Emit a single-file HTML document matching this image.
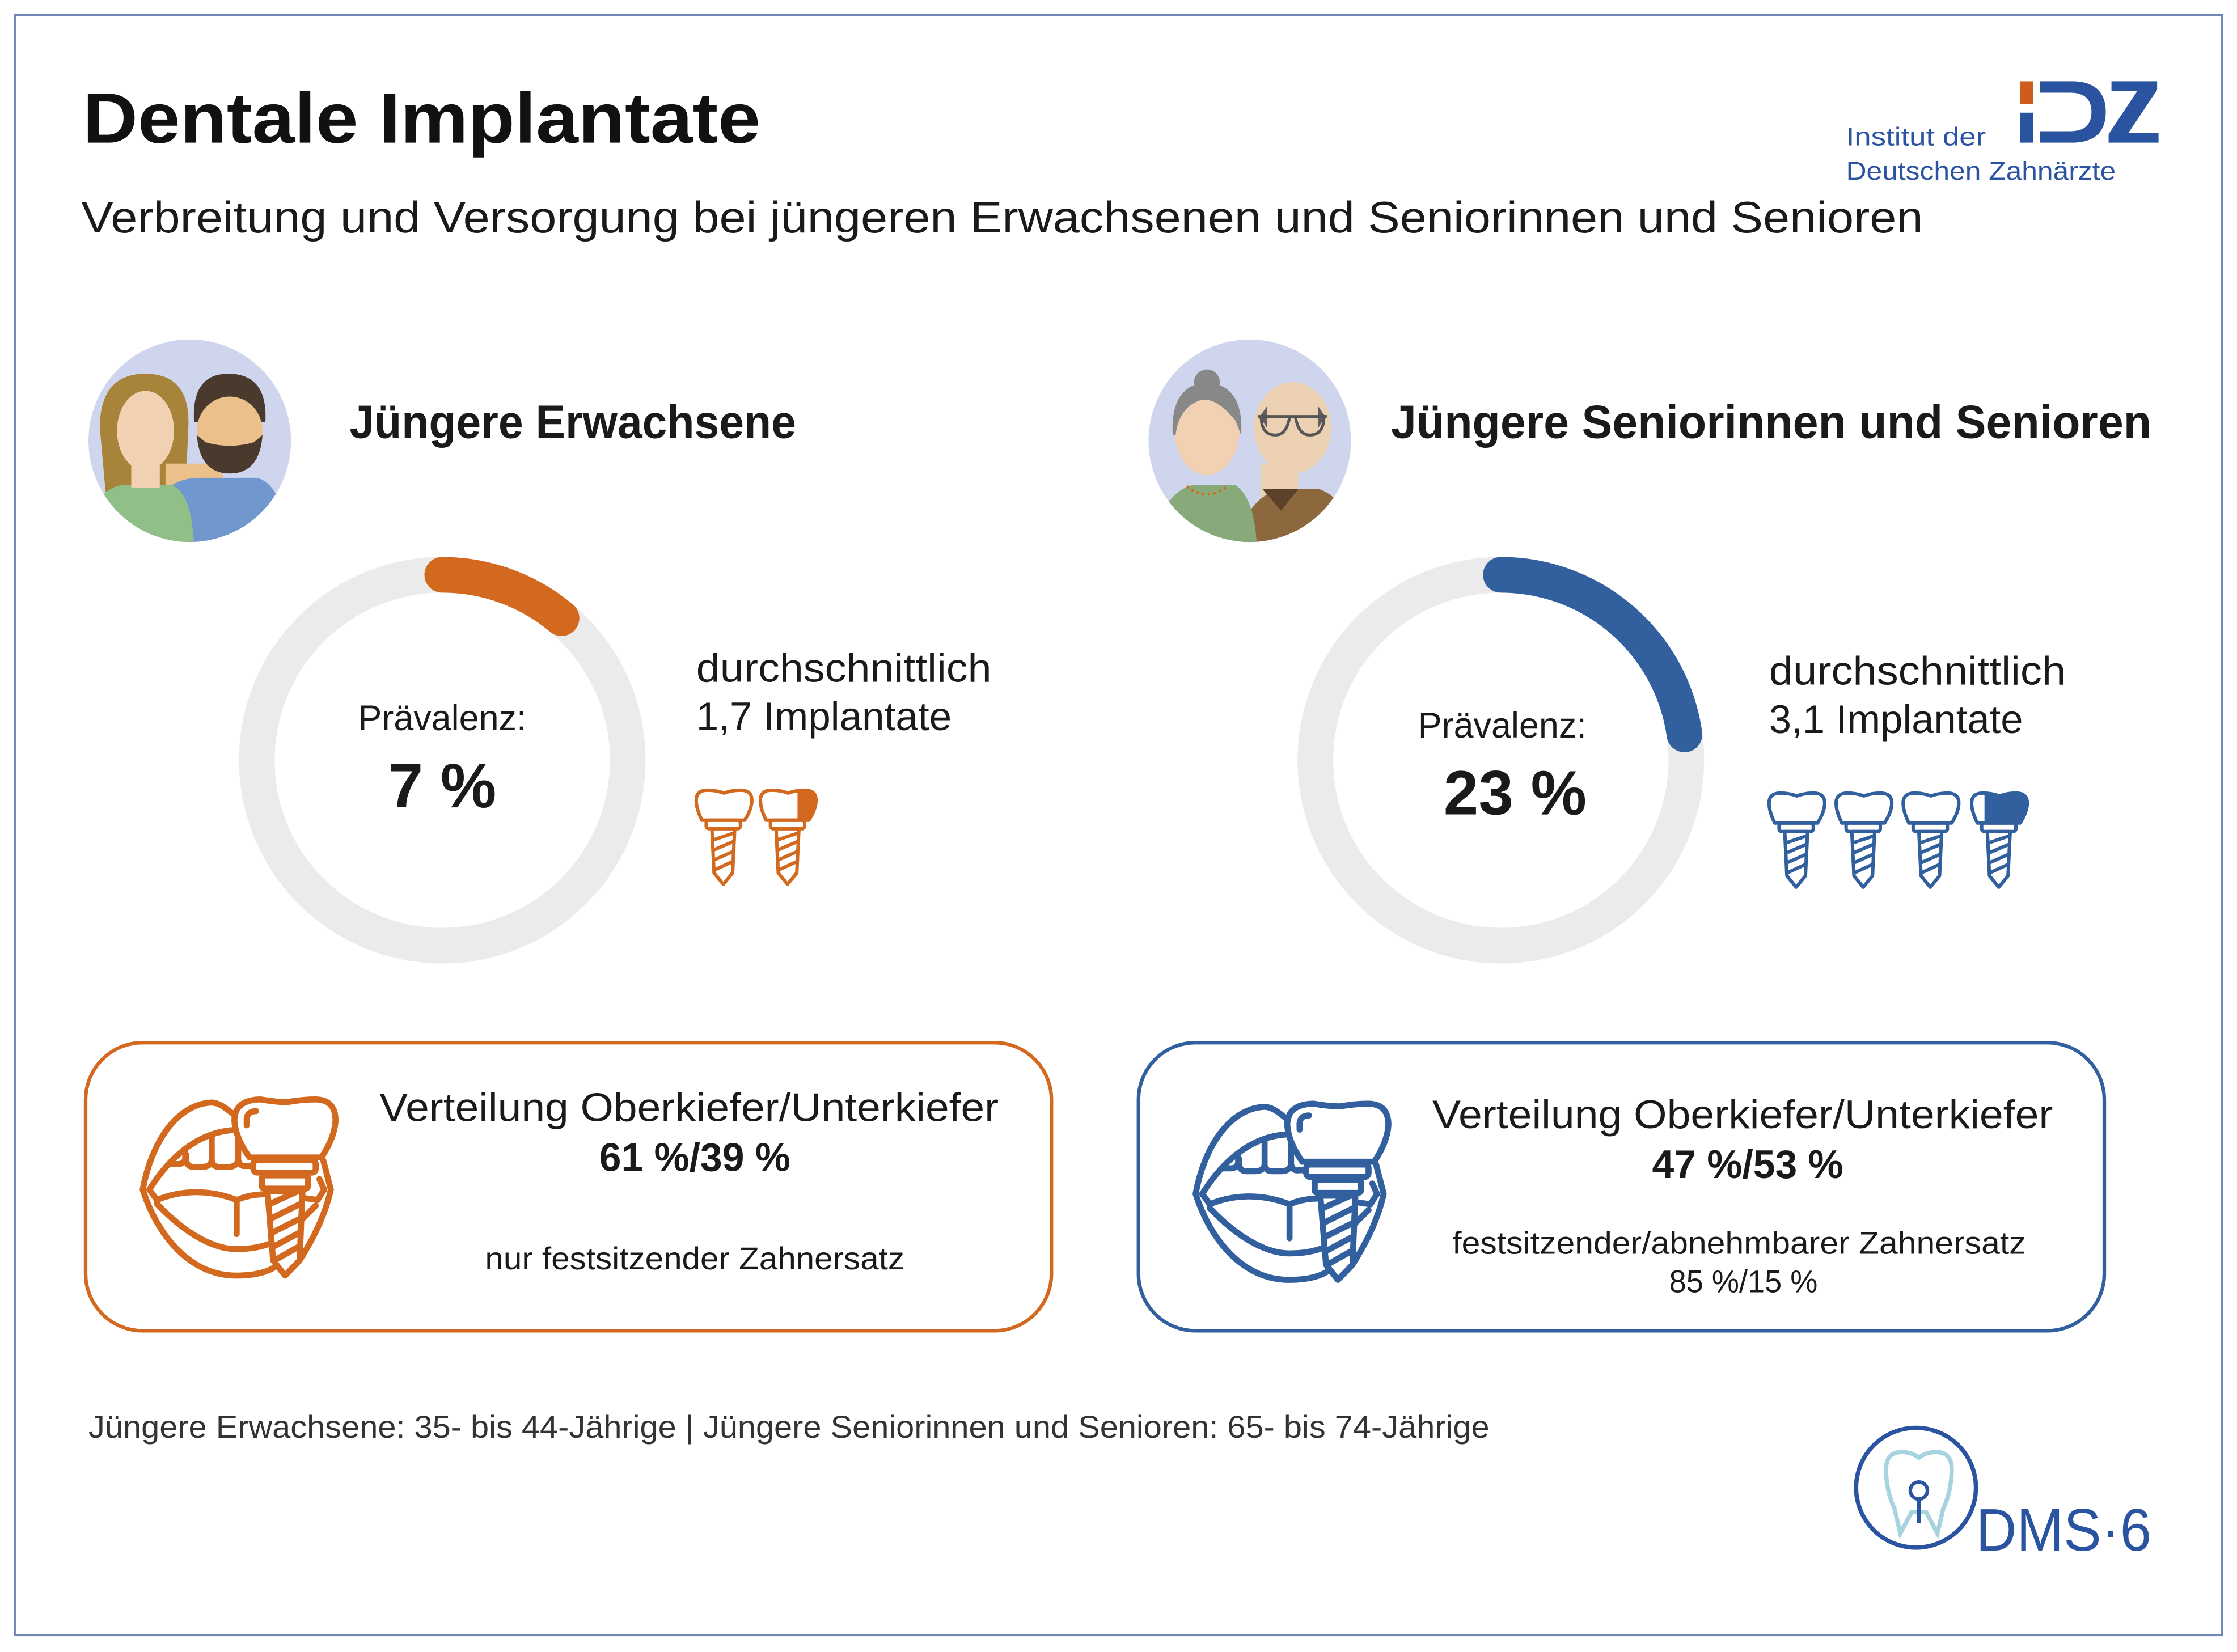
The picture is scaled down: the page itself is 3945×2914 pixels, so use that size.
<!DOCTYPE html>
<html><head><meta charset="utf-8"><style>
html,body{margin:0;padding:0;background:#fff}
svg{display:block}
text{font-family:"Liberation Sans",sans-serif}
</style></head><body>
<svg width="3945" height="2914" viewBox="0 0 1568 1158.2" xmlns="http://www.w3.org/2000/svg">
<defs>
<g id="imp" fill="none" stroke-width="2.4" stroke-linejoin="round">
  <path d="M4,22 L34,22 Q39,14 39,8 Q39,1 31,1 Q25,1 19.5,3 Q14,1 8,1 Q0,1 0,8 Q0,14 4,22Z"/>
  <rect x="7" y="22" width="24" height="6" rx="2"/>
  <path d="M11,28 L27,28 L25.5,59 L19,67 L12.5,59 Z"/>
  <path d="M11.5,36 L26.5,31 M12,43 L26,37 M12.3,50 L25.8,44 M12.6,57 L25.6,51"/>
</g>
<g id="mouth" fill="none" stroke-width="32" stroke-linejoin="round" stroke-linecap="round">
  <path d="M640,350 C600,320 560,280 510,285 C330,300 200,500 155,745 C230,980 400,1200 650,1200 C750,1200 820,1180 860,1150"/>
  <path d="M1110,590 L1150,745 C1120,880 1060,1000 985,1120"/>
  <path d="M190,745 C300,570 450,440 640,430"/>
  <path d="M190,745 L230,800 C350,750 500,740 652,800 C700,780 750,770 800,770"/>
  <path d="M230,820 C400,1000 550,1060 650,1060 C720,1060 780,1050 830,1030"/>
  <path d="M1010,790 L1080,800 L1115,745 L1090,690"/>
  <path d="M1000,900 L1070,830"/>
  <path d="M300,610 L340,610 Q375,610 380,580 L380,550"/>
  <path d="M385,560 L385,590 Q390,625 425,625 L470,625 Q515,625 520,590 L520,470"/>
  <path d="M520,590 Q525,625 560,625 L610,625 Q650,625 660,590 L660,450"/>
  <path d="M660,590 Q670,625 700,620 L720,620"/>
  <path d="M652,810 L652,980"/>
  <path d="M720,575 L1100,575 Q1170,470 1175,380 Q1175,270 1070,268 Q1000,268 920,282 Q860,282 780,268 Q640,270 640,380 Q645,470 720,575 Z" fill="#fff"/>
  <path d="M705,405 L705,370 Q710,330 755,330"/>
  <rect x="740" y="590" width="330" height="65" rx="20" fill="#fff"/>
  <rect x="785" y="670" width="245" height="70" rx="15" fill="#fff"/>
  <path d="M815,755 L1000,755 L985,1120 L908,1200 L845,1120 Z" fill="#fff"/>
  <path d="M830,820 L995,745 M840,895 L990,820 M845,970 L985,900 M850,1045 L980,975 M860,1115 L975,1050"/>
</g>
<clipPath id="c1"><rect x="26" y="-5" width="20" height="28"/></clipPath>
<clipPath id="c2"><rect x="9" y="-5" width="40" height="28"/></clipPath>
<clipPath id="av1"><circle cx="133" cy="309" r="71"/></clipPath>
<clipPath id="av2"><circle cx="876" cy="309" r="71"/></clipPath>
</defs>

<rect x="10.5" y="10.5" width="1547" height="1136" fill="none" stroke="#6b86b5" stroke-width="1.2"/>

<text x="58" y="100" font-size="50" font-weight="bold" fill="#111" textLength="475" lengthAdjust="spacingAndGlyphs">Dentale Implantate</text>
<text x="57" y="163" font-size="31" fill="#1a1a1a" textLength="1291" lengthAdjust="spacingAndGlyphs">Verbreitung und Versorgung bei jüngeren Erwachsenen und Seniorinnen und Senioren</text>

<!-- IDZ logo -->
<rect x="1416" y="57" width="9" height="16" fill="#cf5c1c"/>
<rect x="1416" y="79" width="9" height="21" fill="#2a53a0"/>
<path d="M1430,57 L1452,57 Q1476,57 1476,78.5 Q1476,100 1452,100 L1430,100 L1430,92 L1451,92 Q1466,92 1466,78.5 Q1466,65 1451,65 L1430,65 Z" fill="#2a53a0"/>
<path d="M1480,57 L1512,57 L1512,63 L1492,93 L1513,93 L1513,100 L1478,100 L1478,94 L1498,64 L1480,64 Z" fill="#2a53a0"/>
<text x="1294" y="102" font-size="18" fill="#2a53a0" textLength="98" lengthAdjust="spacingAndGlyphs">Institut der</text>
<text x="1294" y="126" font-size="18" fill="#2a53a0" textLength="189" lengthAdjust="spacingAndGlyphs">Deutschen Zahnärzte</text>

<!-- left avatar -->
<g clip-path="url(#av1)">
<circle cx="133" cy="309" r="71" fill="#cfd5ed"/>
<path d="M70,300 Q70,262 102,262 Q134,262 132,300 L130,345 L74,345Z" fill="#a7843a"/>
<rect x="116" y="325" width="40" height="25" fill="#ecc08a"/>
<path d="M112,350 Q120,335 140,335 L180,335 Q200,340 200,385 L112,385Z" fill="#7197cf"/>
<path d="M60,385 Q62,345 85,340 L120,340 Q135,345 136,385Z" fill="#91bf88"/>
<rect x="92" y="320" width="20" height="22" fill="#f1d1b1"/>
<ellipse cx="102" cy="302" rx="20" ry="28" fill="#f1d1b1"/>
<path d="M136,296 Q134,262 160,262 Q188,262 186,296 Z" fill="#4a3a2e"/>
<ellipse cx="161" cy="302" rx="23" ry="24" fill="#ecc08a"/>
<path d="M138,305 Q140,332 161,332 Q182,332 184,305 L178,310 Q161,315 144,310Z" fill="#4a3a2e"/>
</g>
<text x="245" y="307" font-size="33" font-weight="bold" fill="#1a1a1a" textLength="313" lengthAdjust="spacingAndGlyphs">Jüngere Erwachsene</text>

<!-- right avatar -->
<g clip-path="url(#av2)">
<circle cx="876" cy="309" r="71" fill="#cfd5ed"/>
<rect x="884" y="325" width="26" height="25" fill="#ecd0b2"/>
<path d="M870,370 Q880,345 900,343 L925,343 Q945,350 950,385 L870,385Z" fill="#8d683e"/>
<path d="M885,343 L898,358 L910,343" fill="#5b4228"/>
<path d="M805,385 Q815,345 836,340 L866,340 Q880,350 881,385Z" fill="#88aa7a"/>
<ellipse cx="846" cy="300" rx="23" ry="33" fill="#f1d1b1"/>
<path d="M822,305 Q820,270 846,268 Q872,270 870,305 L866,295 Q850,275 838,282 Q826,288 824,305Z" fill="#888"/>
<circle cx="846" cy="268" r="9" fill="#888"/>
<ellipse cx="906" cy="300" rx="27" ry="32" fill="#ecd0b2"/>
<path d="M883,292 L888,285 L888,300Z M929,292 L924,285 L924,300Z" fill="#5e5e5e"/>
<path d="M882,292 L930,292 M884,292 Q884,305 894,305 Q902,305 904,292 M908,292 Q910,305 918,305 Q928,305 928,292" fill="none" stroke="#555" stroke-width="2"/>
<path d="M832,341 Q846,352 860,341" fill="none" stroke="#d2691e" stroke-width="2" stroke-dasharray="1.5 2.5"/>
</g>
<text x="975" y="307" font-size="33" font-weight="bold" fill="#1a1a1a" textLength="533" lengthAdjust="spacingAndGlyphs">Jüngere Seniorinnen und Senioren</text>

<!-- left donut -->
<circle cx="310" cy="533" r="130" fill="none" stroke="#ebebeb" stroke-width="25"/>
<path d="M310,403 A130,130 0 0 1 393.6,433.4" fill="none" stroke="#d2691e" stroke-width="25" stroke-linecap="round"/>
<text x="310" y="512" font-size="25" text-anchor="middle" fill="#1a1a1a">Prävalenz:</text>
<text x="310" y="566" font-size="44" font-weight="bold" text-anchor="middle" fill="#1a1a1a">7 %</text>
<text x="488" y="478" font-size="28" fill="#1a1a1a" textLength="207" lengthAdjust="spacingAndGlyphs">durchschnittlich</text>
<text x="488" y="512" font-size="28" fill="#1a1a1a" textLength="179" lengthAdjust="spacingAndGlyphs">1,7 Implantate</text>
<g stroke="#d2691e"><use href="#imp" transform="translate(488,553)"/><use href="#imp" transform="translate(533,553)"/></g>
<path transform="translate(533,553)" clip-path="url(#c1)" d="M4,22 L34,22 Q39,14 39,8 Q39,1 31,1 Q25,1 19.5,3 Q14,1 8,1 Q0,1 0,8 Q0,14 4,22Z" fill="#d2691e"/>

<!-- right donut -->
<circle cx="1052" cy="533" r="130" fill="none" stroke="#ebebeb" stroke-width="25"/>
<path d="M1052,403 A130,130 0 0 1 1180.7,514.9" fill="none" stroke="#32609e" stroke-width="25" stroke-linecap="round"/>
<text x="1053" y="517" font-size="25" text-anchor="middle" fill="#1a1a1a">Prävalenz:</text>
<text x="1062" y="571" font-size="44" font-weight="bold" text-anchor="middle" fill="#1a1a1a">23 %</text>
<text x="1240" y="480" font-size="28" fill="#1a1a1a" textLength="208" lengthAdjust="spacingAndGlyphs">durchschnittlich</text>
<text x="1240" y="514" font-size="28" fill="#1a1a1a" textLength="178" lengthAdjust="spacingAndGlyphs">3,1 Implantate</text>
<g stroke="#32609e"><use href="#imp" transform="translate(1240,555)"/><use href="#imp" transform="translate(1287,555)"/><use href="#imp" transform="translate(1334,555)"/><use href="#imp" transform="translate(1382,555)"/></g>
<path transform="translate(1382,555)" clip-path="url(#c2)" d="M4,22 L34,22 Q39,14 39,8 Q39,1 31,1 Q25,1 19.5,3 Q14,1 8,1 Q0,1 0,8 Q0,14 4,22Z" fill="#32609e"/>

<!-- boxes -->
<rect x="60" y="731" width="677" height="202" rx="40" fill="none" stroke="#d2691e" stroke-width="2.5"/>
<g stroke="#d2691e" transform="translate(79.5,735.3) scale(0.1325)"><use href="#mouth"/></g>
<text x="266" y="786" font-size="28" fill="#1a1a1a" textLength="434" lengthAdjust="spacingAndGlyphs">Verteilung Oberkiefer/Unterkiefer</text>
<text x="420" y="821" font-size="28" font-weight="bold" fill="#1a1a1a" textLength="134" lengthAdjust="spacingAndGlyphs">61 %/39 %</text>
<text x="340" y="890" font-size="22" fill="#1a1a1a" textLength="294" lengthAdjust="spacingAndGlyphs">nur festsitzender Zahnersatz</text>

<rect x="798" y="731" width="677" height="202" rx="40" fill="none" stroke="#32609e" stroke-width="2.5"/>
<g stroke="#32609e" transform="translate(817.5,738.3) scale(0.1325)"><use href="#mouth"/></g>
<text x="1004" y="791" font-size="28" fill="#1a1a1a" textLength="435" lengthAdjust="spacingAndGlyphs">Verteilung Oberkiefer/Unterkiefer</text>
<text x="1158" y="826" font-size="28" font-weight="bold" fill="#1a1a1a" textLength="134" lengthAdjust="spacingAndGlyphs">47 %/53 %</text>
<text x="1018" y="879" font-size="22" fill="#1a1a1a" textLength="402" lengthAdjust="spacingAndGlyphs">festsitzender/abnehmbarer Zahnersatz</text>
<text x="1170" y="906" font-size="22" fill="#1a1a1a" textLength="104" lengthAdjust="spacingAndGlyphs">85 %/15 %</text>

<text x="62" y="1008" font-size="22" fill="#333" textLength="982" lengthAdjust="spacingAndGlyphs">Jüngere Erwachsene: 35- bis 44-Jährige | Jüngere Seniorinnen und Senioren: 65- bis 74-Jährige</text>

<!-- DMS 6 logo -->
<circle cx="1343" cy="1043" r="42" fill="none" stroke="#2a53a0" stroke-width="3"/>
<path d="M1322,1030 Q1322,1018 1333,1018 Q1340,1018 1345,1022 Q1350,1018 1357,1018 Q1368,1018 1368,1030 Q1368,1045 1362,1058 L1358,1075 L1350,1060 L1340,1060 L1332,1075 L1328,1058 Q1322,1045 1322,1030Z" fill="none" stroke="#a6d3dd" stroke-width="3"/>
<circle cx="1345" cy="1045" r="6" fill="none" stroke="#2a53a0" stroke-width="2.5"/>
<path d="M1345,1051 L1345,1068" stroke="#2a53a0" stroke-width="2.5"/>
<text x="1385" y="1087" font-size="42" fill="#2a53a0" textLength="123" lengthAdjust="spacingAndGlyphs">DMS·6</text>
</svg>
</body></html>
